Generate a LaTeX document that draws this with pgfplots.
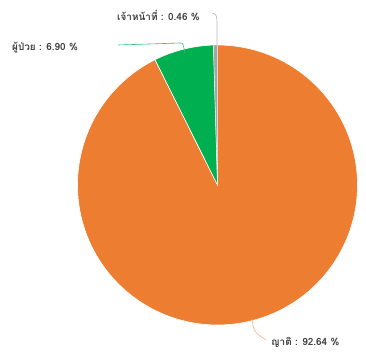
\documentclass[border=0pt]{standalone}
\usepackage{fontspec}
\usepackage{pgfplots}
\pgfplotsset{compat=1.18}
\newfontfamily\thaifont[Script=Thai]{Loma}
\definecolor{cOrange}{HTML}{ED7D31}
\definecolor{cGreen}{HTML}{00B050}
\definecolor{cGray}{HTML}{A5A5A5}
\definecolor{cText}{HTML}{404040}
\begin{document}
\begin{tikzpicture}
\pgfmathsetmacro{\vA}{92.64}
\pgfmathsetmacro{\vB}{6.90}
\pgfmathsetmacro{\vC}{0.46}
\pgfmathsetmacro{\aA}{90}
\pgfmathsetmacro{\aB}{90-3.6*\vA}
\pgfmathsetmacro{\aC}{\aB-3.6*\vB}
\pgfmathsetmacro{\aD}{\aC-3.6*\vC}
\begin{axis}[x=1bp,y=1bp,xmin=0,xmax=366,ymin=0,ymax=356,hide axis,clip=false]
\addplot[fill=cOrange,draw=white,line width=0.6pt,domain=\aB:\aA,samples=150,variable=\t]
  ({217.5+140*cos(\t)},{171+140*sin(\t)}) -- (axis cs:217.5,171) -- cycle;
\addplot[fill=cGreen,draw=white,line width=0.6pt,domain=\aC:\aB,samples=20,variable=\t]
  ({217.5+140*cos(\t)},{171+140*sin(\t)}) -- (axis cs:217.5,171) -- cycle;
\addplot[fill=cGray,draw=white,line width=0.3pt,domain=\aD:\aC,samples=5,variable=\t]
  ({217.5+140*cos(\t)},{171+140*sin(\t)}) -- (axis cs:217.5,171) -- cycle;
% leader lines
\draw[cGreen!80!white,line width=0.6pt] (axis cs:118,311) -- (axis cs:180,313) .. controls (axis cs:183,313) .. (axis cs:185,303);
\draw[cGray!80!white,line width=0.6pt] (axis cs:212,343) .. controls (axis cs:217,341) .. (axis cs:217,330) -- (axis cs:217,311);
\draw[cOrange!60!white,line width=0.6pt] (axis cs:252,37) .. controls (axis cs:254,24) .. (axis cs:266,16);
% labels
\node[anchor=base west,inner sep=0pt,text=cText,font=\thaifont\bfseries\fontsize{10}{12}\selectfont] at (axis cs:12,305) {ผู้ป่วย : 6.90 \%};
\node[anchor=base west,inner sep=0pt,text=cText,font=\thaifont\bfseries\fontsize{10}{12}\selectfont] at (axis cs:117,335) {เจ้าหน้าที่ : 0.46 \%};
\node[anchor=base west,inner sep=0pt,text=cText,font=\thaifont\bfseries\fontsize{10}{12}\selectfont] at (axis cs:271,10) {ญาติ : 92.64 \%};
\end{axis}
\path[use as bounding box] (0,0) rectangle (366bp,356bp);
\end{tikzpicture}
\end{document}
